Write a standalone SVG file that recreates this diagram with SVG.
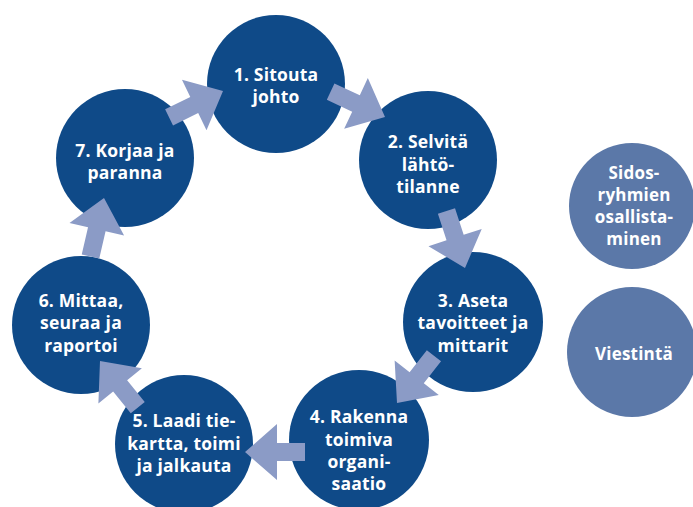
<svg xmlns="http://www.w3.org/2000/svg" width="693" height="507" viewBox="0 0 693 507">
<defs>
<style>
.c{fill:#0f4a88}
.s{fill:#5b78a8}
.a{fill:#8b9bc6}
text{font-family:"Open Sans","Liberation Sans",sans-serif;font-weight:700;font-size:17.5px;letter-spacing:0.2px;fill:#ffffff;text-anchor:middle}
.r{font-size:17px}
</style>
<path id="arr" d="M0,0 L-32,-28 L-32,-9 L-60,-9 L-60,9 L-32,9 L-32,28 Z"/>
</defs>
<rect width="693" height="507" fill="#ffffff"/>
<g id="n1"><circle class="c" cx="276" cy="84" r="69"/><text x="276" y="81">1. Sitouta</text><text x="276" y="103">johto</text></g>
<g id="n2"><circle class="c" cx="428" cy="160" r="69"/><text x="428" y="148">2. Selvitä</text><text x="428" y="171">lähtö-</text><text x="428" y="193">tilanne</text></g>
<g id="n3"><circle class="c" cx="473" cy="322" r="70"/><text x="473" y="307">3. Aseta</text><text x="473" y="329">tavoitteet ja</text><text x="473" y="352">mittarit</text></g>
<g id="n4"><circle class="c" cx="359" cy="440" r="70"/><text x="359" y="423">4. Rakenna</text><text x="359" y="446">toimiva</text><text x="359" y="468">organi-</text><text x="359" y="490">saatio</text></g>
<g id="n5"><circle class="c" cx="184" cy="444" r="69"/><text x="184" y="427">5. Laadi tie-</text><text x="184" y="450">kartta, toimi</text><text x="184" y="472">ja jalkauta</text></g>
<g id="n6"><circle class="c" cx="81" cy="325" r="69"/><text x="81" y="307">6. Mittaa,</text><text x="81" y="329">seuraa ja</text><text x="81" y="352">raportoi</text></g>
<g id="n7"><circle class="c" cx="125" cy="158" r="69"/><text x="125" y="157">7. Korjaa ja</text><text x="125" y="179">paranna</text></g>
<g id="n8"><circle class="s" cx="632" cy="206" r="63"/><text class="r" x="634" y="179">Sidos-</text><text class="r" x="634" y="201">ryhmien</text><text class="r" x="634" y="223">osallista-</text><text class="r" x="634" y="245">minen</text></g>
<g id="n9"><circle class="s" cx="632" cy="352" r="65"/><text class="r" x="634" y="360">Viestintä</text></g>
<g id="connectors" class="a">
<use href="#arr" transform="translate(385,117) rotate(25)"/>
<use href="#arr" transform="translate(465,268) rotate(72)"/>
<use href="#arr" transform="translate(397,403) rotate(128)"/>
<use href="#arr" transform="translate(245,452) rotate(180)"/>
<use href="#arr" transform="translate(100,361) rotate(231)"/>
<use href="#arr" transform="translate(104,198) rotate(283)"/>
<use href="#arr" transform="translate(223,91) rotate(334)"/>
</g>
</svg>
